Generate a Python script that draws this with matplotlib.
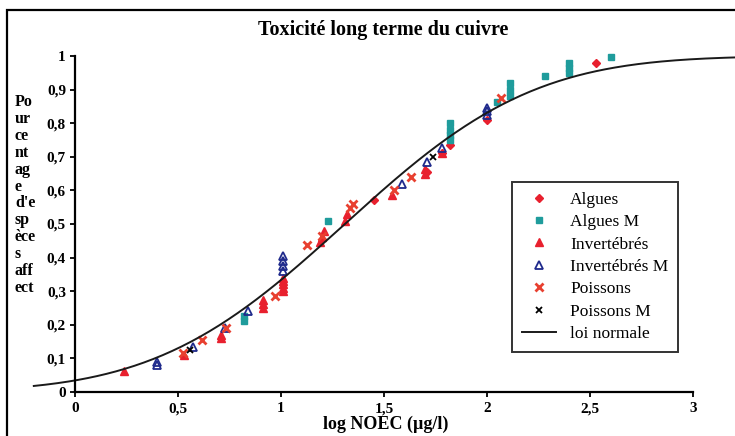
import math
import numpy as np
import matplotlib
matplotlib.use("Agg")
import matplotlib.pyplot as plt
from matplotlib.patches import Rectangle

# ---------------- data ----------------
algues_x = [1.45, 1.71, 1.78, 1.82, 2.00, 2.53]
algues_y = [0.57, 0.655, 0.71, 0.735, 0.81, 0.98]

alguesM_x = [0.82, 0.82, 1.23, 1.82, 1.82, 1.82, 1.82, 2.05, 2.11, 2.11, 2.11, 2.28, 2.40, 2.40, 2.40, 2.60]
alguesM_y = [0.21, 0.225, 0.51, 0.75, 0.765, 0.78, 0.80, 0.864, 0.88, 0.90, 0.92, 0.94, 0.95, 0.965, 0.98, 0.997]

invert_x = [0.24, 0.53, 0.71, 0.71, 0.915, 0.915, 0.915, 1.01, 1.01, 1.01, 1.01, 1.01,
            1.19, 1.20, 1.21, 1.31, 1.32, 1.54, 1.70, 1.70, 1.78]
invert_y = [0.063, 0.11, 0.16, 0.17, 0.25, 0.262, 0.275, 0.30, 0.31, 0.32, 0.33, 0.34,
            0.447, 0.46, 0.48, 0.51, 0.53, 0.586, 0.65, 0.665, 0.71]

invertM_x = [0.40, 0.40, 0.575, 0.73, 0.84, 1.01, 1.01, 1.01, 1.01, 1.585, 1.71, 1.78, 2.00, 2.00, 2.00]
invertM_y = [0.08, 0.09, 0.135, 0.19, 0.24, 0.36, 0.375, 0.39, 0.405, 0.62, 0.685, 0.725, 0.825, 0.835, 0.845]

poissons_x = [0.525, 0.615, 0.735, 0.97, 1.125, 1.20, 1.335, 1.35, 1.55, 1.63, 2.07]
poissons_y = [0.115, 0.155, 0.19, 0.285, 0.437, 0.465, 0.547, 0.56, 0.60, 0.64, 0.874]

poissonsM_x = [0.56, 1.74]
poissonsM_y = [0.125, 0.70]

# fitted normal law (log NOEC)
loi_mu = 1.31
loi_sigma = 0.72
loi_xmin, loi_xmax = -0.2, 3.2

xticks = [0, 0.5, 1, 1.5, 2, 2.5, 3]
xtick_labels = ["0", "0,5", "1", "1,5", "2", "2,5", "3"]
yticks = [0, 0.1, 0.2, 0.3, 0.4, 0.5, 0.6, 0.7, 0.8, 0.9, 1]
ytick_labels = ["0", "0,1", "0,2", "0,3", "0,4", "0,5", "0,6", "0,7", "0,8", "0,9", "1"]

title = "Toxicité long terme du cuivre"
xlabel = "log NOEC (µg/l)"
ylabel_lines = ["Po", "ur", "ce", "nt", "ag", "e", "d'e", "sp", "èce", "s", "aff", "ect"]

# ---------------- figure ----------------
W, H = 735, 436
fig = plt.figure(figsize=(W / 100, H / 100), dpi=100)
serif = ["Liberation Serif", "DejaVu Serif"]
plt.rcParams["font.family"] = serif

x0px, unit = 75.0, 206.0
left_px = x0px + loi_xmin * unit
right_px = x0px + loi_xmax * unit
y0px, y1px = 392.0, 56.0
ax = fig.add_axes([left_px / W, (H - y0px) / H, (right_px - left_px) / W, (y0px - y1px) / H])
ax.set_xlim(loi_xmin, loi_xmax)
ax.set_ylim(0, 1)
ax.patch.set_alpha(0)

for s in ["top", "right"]:
    ax.spines[s].set_visible(False)
ax.spines["left"].set_position(("data", 0))
ax.spines["left"].set_bounds(0, 1)
ax.spines["bottom"].set_bounds(0, 3)
for s in ["left", "bottom"]:
    ax.spines[s].set_linewidth(1.6)

ax.set_xticks(xticks)
ax.set_xticklabels(xtick_labels, fontweight="bold", fontsize=11)
ax.set_yticks(yticks)
ax.set_yticklabels(ytick_labels, fontweight="bold", fontsize=11)
ax.tick_params(axis="both", direction="out", length=3.5, width=1.3)
ax.tick_params(axis="x", pad=4)
ax.tick_params(axis="y", pad=3)

# normal law curve
xs = np.linspace(loi_xmin, loi_xmax, 300)
ys = np.array([0.5 * (1 + math.erf((v - loi_mu) / (loi_sigma * math.sqrt(2)))) for v in xs])

red = "#e8202e"
teal = "#1f9c9c"
navy = "#1f2a8c"

ax.plot(algues_x, algues_y, ls="none", marker="D", ms=4.5, color=red, label="Algues", clip_on=False)
ax.plot(alguesM_x, alguesM_y, ls="none", marker="s", ms=5, color=teal, label="Algues M", clip_on=False)
ax.plot(invert_x, invert_y, ls="none", marker="^", ms=6, color=red, label="Invertébrés", clip_on=False)
ax.plot(invertM_x, invertM_y, ls="none", marker="^", ms=6, mfc="none", mec=navy, mew=1.3,
        label="Invertébrés M", clip_on=False)
ax.plot(poissons_x, poissons_y, ls="none", marker="x", ms=6, mew=2, color="#e84030", label="Poissons", clip_on=False)
ax.plot(poissonsM_x, poissonsM_y, ls="none", marker="x", ms=5, mew=1.3, color="black", label="Poissons M", clip_on=False)
ax.plot(xs, ys, color="#1a1a1a", lw=1.4, label="loi normale", clip_on=False)

leg = ax.legend(loc="upper left", bbox_to_anchor=(512 / W, 1 - 182 / H), bbox_transform=fig.transFigure,
                frameon=True, fancybox=False, edgecolor="black", fontsize=12.5,
                labelspacing=0.36, handlelength=2.0, borderpad=0.55, handletextpad=0.8,
                borderaxespad=0)
leg.get_frame().set_linewidth(1.4)

fig.text(383 / W, 1 - 30 / H, title, ha="center", va="center", fontsize=14.5, fontweight="bold")
fig.text(386 / W, 1 - 424 / H, xlabel, ha="center", va="center", fontsize=13, fontweight="bold")
fig.text(15 / W, 1 - 94 / H, "\n".join(ylabel_lines), ha="left", va="top", fontsize=11.5,
         fontweight="bold", linespacing=1.075)

# outer chart frame
fig.patches.append(Rectangle((7 / W, -0.05), 1.2, 1 - 10 / H + 0.05, transform=fig.transFigure,
                             fill=False, edgecolor="black", lw=1.6))

fig.savefig("out.png", dpi=100)
